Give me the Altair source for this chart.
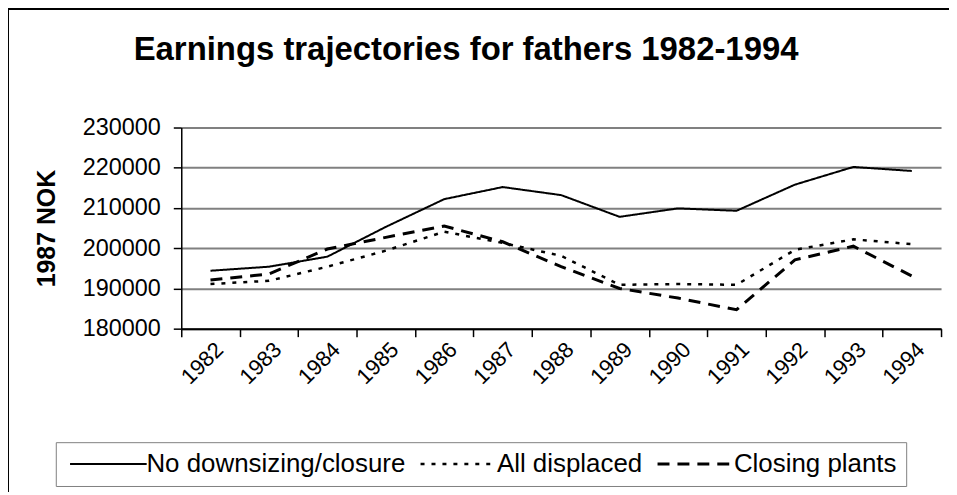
import altair as alt
import pandas as pd

years = [1982, 1983, 1984, 1985, 1986, 1987, 1988, 1989, 1990, 1991, 1992, 1993, 1994]
no_downsizing = [194400, 195400, 197900, 205300, 212200, 215200, 213200, 207800, 209900, 209300, 215800, 220200, 219200]
all_displaced = [191100, 191900, 195400, 199400, 204100, 201300, 198100, 190900, 191100, 190900, 199600, 202200, 201000]
closing_plants = [192100, 193600, 199800, 202700, 205500, 201600, 195400, 190000, 187600, 184700, 197100, 200500, 193100]
series_names = ["No downsizing/closure", "All displaced", "Closing plants"]
y_ticks = [180000, 190000, 200000, 210000, 220000, 230000]
tick_edges = [y - 0.5 for y in years] + [years[-1] + 0.5]
TITLE = "Earnings trajectories for fathers 1982-1994"

rows = []
for name, vals in zip(series_names, [no_downsizing, all_displaced, closing_plants]):
    for yr, v in zip(years, vals):
        rows.append({"year": yr, "value": v, "series": name})
df = pd.DataFrame(rows)

FONT = "Liberation Sans"

legend = alt.Legend(title=None, orient="none", legendX=-126, legendY=316,
                    direction="horizontal", columns=3,
                    symbolType="M-1,0H9", symbolSize=237,
                    symbolStrokeColor="black", symbolFillColor="transparent",
                    labelFontSize=26, labelFont=FONT, labelColor="black",
                    labelOffset=56, labelLimit=0,
                    padding=9, columnPadding=9, rowPadding=0,
                    strokeColor="#808080", fillColor="white")

lines = alt.Chart(df).mark_line(color="black", clip=False).encode(
    x=alt.X("year:Q",
            scale=alt.Scale(domain=[1981.5, 1994.5], nice=False, zero=False),
            axis=alt.Axis(values=tick_edges, title=None, grid=False,
                          labelExpr="datum.value < 1994 ? format(datum.value + 0.5, 'd') : ''",
                          labelOffset=38, labelAngle=-45, labelAlign="right", labelBaseline="middle",
                          labelFontSize=22, labelFont=FONT, labelColor="black", labelPadding=9,
                          labelOverlap=False, labelFlush=False, labelBound=False,
                          tickSize=8, tickColor="black", tickWidth=1.5,
                          domainColor="black", domainWidth=2)),
    y=alt.Y("value:Q",
            scale=alt.Scale(domain=[180000, 230000], nice=False, zero=False),
            axis=alt.Axis(values=y_ticks, title="1987 NOK", format="d",
                          titleFontSize=25, titleFont=FONT, titleFontWeight="bold", titleColor="black",
                          titlePadding=23,
                          labelFontSize=23.5, labelFont=FONT, labelColor="black", labelPadding=13,
                          tickSize=8, tickColor="black", tickWidth=1.5,
                          grid=True, gridColor="#808080", gridWidth=2,
                          domainColor="black", domainWidth=1.5)),
    strokeDash=alt.StrokeDash("series:N",
                              scale=alt.Scale(domain=series_names, range=[[1, 0], [4, 7], [12, 8]]),
                              legend=legend),
    strokeWidth=alt.StrokeWidth("series:N",
                                scale=alt.Scale(domain=series_names, range=[2, 3, 2.5]),
                                legend=legend),
    order="year:Q",
)

frame = alt.Chart(pd.DataFrame({"a": [0]})).mark_rect(
    filled=False, stroke="black", strokeWidth=2, clip=False
).encode(
    x=alt.value(-174), x2=alt.value(1200), y=alt.value(-119), y2=alt.value(800)
)

title = alt.Chart(pd.DataFrame({"t": [TITLE]})).mark_text(
    font=FONT, fontSize=33, fontWeight="bold", color="black",
    align="center", baseline="alphabetic", clip=False
).encode(text="t:N", x=alt.value(286), y=alt.value(-68))

chart = alt.layer(frame, title, lines).properties(
    width=763, height=202,
    autosize=alt.AutoSizeParams(type="none"),
    padding={"left": 174, "top": 119, "right": 8, "bottom": 163},
    background="white",
).configure_view(stroke=None)

chart.save("out.html", embed_options={"renderer": "svg", "actions": False})
